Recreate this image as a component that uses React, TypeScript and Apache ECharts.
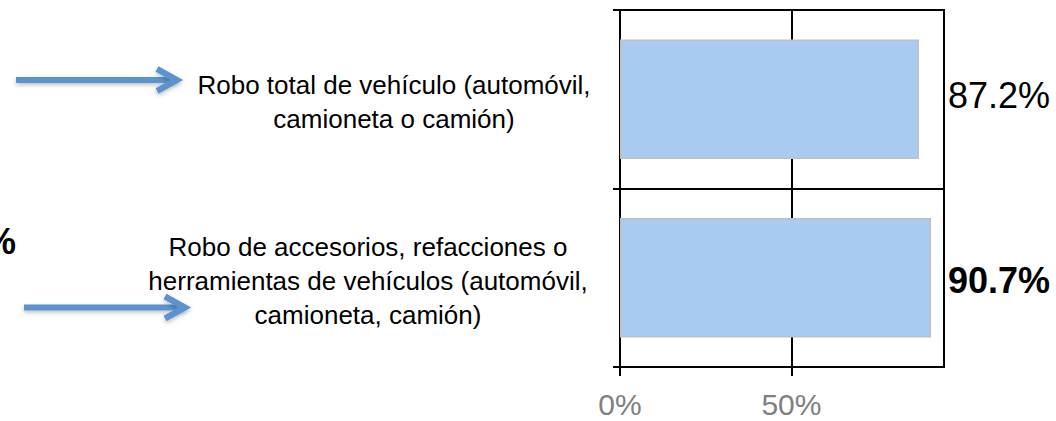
import React, { useEffect, useRef } from "react";
import * as echarts from "echarts";

const categories = [
  "Robo total de vehículo (automóvil,\ncamioneta o camión)",
  "Robo de accesorios, refacciones o\nherramientas de vehículos (automóvil,\ncamioneta, camión)",
];
const values = [87.2, 90.7];
const valueLabels = values.map((v) => v.toFixed(1) + "%");
const xTicks = [0, 50];

const FONT = "'Liberation Sans', Arial, Helvetica, sans-serif";
const ARROW = "#5B93CE";
const SHADOW = { shadowBlur: 4, shadowColor: "rgba(0,0,0,0.25)", shadowOffsetY: 2 };

export default function App() {
  const ref = useRef<HTMLDivElement>(null);
  useEffect(() => {
    document.body.style.margin = "0";
    const chart = echarts.init(ref.current!, null, { renderer: "svg" });
    const black = { color: "#000", width: 2 };
    chart.setOption({
      animation: false,
      textStyle: { fontFamily: FONT },
      grid: {
        left: 620,
        top: 10,
        width: 324,
        height: 357,
        show: true,
        borderColor: "#000",
        borderWidth: 2,
        containLabel: false,
      },
      xAxis: {
        type: "value",
        min: 0,
        max: 94.5,
        interval: 50,
        axisLine: { show: true, lineStyle: black },
        axisTick: { show: true, length: 9, customValues: xTicks, lineStyle: black },
        axisLabel: {
          customValues: xTicks,
          formatter: "{value}%",
          color: "#808080",
          fontSize: 30,
          fontFamily: FONT,
          margin: 22,
        },
        splitLine: { show: true, lineStyle: black },
      },
      yAxis: [
        {
          type: "category",
          data: categories,
          inverse: true,
          axisLine: { show: true, lineStyle: black },
          axisTick: { show: true, length: 7, lineStyle: black },
          splitLine: { show: true, lineStyle: black },
          axisLabel: {
            align: "center",
            margin: 226,
            padding: [6, 0, 0, 0],
            formatter: (v: string, i: number) => {
              const key = i === 0 ? "a" : "b";
              return v
                .split("\n")
                .map((l) => `{${key}|${l}}`)
                .join("\n");
            },
            rich: {
              a: { fontSize: 26, lineHeight: 34, color: "#000", fontFamily: FONT },
              b: {
                fontSize: 26,
                lineHeight: 34,
                color: "#000",
                fontFamily: FONT,
                padding: [0, 52, 0, 0],
              },
            },
          },
        },
        {
          type: "category",
          data: valueLabels,
          inverse: true,
          position: "right",
          axisLine: { show: false },
          axisTick: { show: false },
          splitLine: { show: false },
          axisLabel: {
            align: "left",
            margin: 4,
            formatter: (v: string, i: number) => (i === 0 ? `{n|${v}}` : `{b|${v}}`),
            rich: {
              n: { fontSize: 36, color: "#000", fontFamily: FONT, padding: [0, 0, 8, 0] },
              b: {
                fontSize: 36,
                color: "#000",
                fontWeight: "bold",
                fontFamily: FONT,
                padding: [5, 0, 0, 0],
              },
            },
          },
        },
      ],
      series: [
        {
          type: "bar",
          data: values,
          yAxisIndex: 0,
          barCategoryGap: "33%",
          itemStyle: { color: "#A9CBF2", borderColor: "#BFBFBF", borderWidth: 1.5 },
        },
      ],
      graphic: [
        {
          type: "text",
          x: 16,
          y: 241,
          style: {
            text: "%",
            fontSize: 36,
            fontWeight: "bold",
            fontFamily: FONT,
            fill: "#000",
            align: "right",
            verticalAlign: "middle",
          },
        },
        {
          type: "group",
          children: [
            {
              type: "rect",
              shape: { x: 16, y: 77, width: 160, height: 6 },
              style: { fill: ARROW, ...SHADOW },
            },
            {
              type: "polyline",
              shape: { points: [[157, 69], [177, 80], [157, 91]] },
              style: { stroke: ARROW, fill: null, lineWidth: 6, lineJoin: "miter", ...SHADOW },
            },
            {
              type: "rect",
              shape: { x: 24, y: 304.5, width: 160, height: 6 },
              style: { fill: ARROW, ...SHADOW },
            },
            {
              type: "polyline",
              shape: { points: [[165, 296.5], [185, 307.5], [165, 318.5]] },
              style: { stroke: ARROW, fill: null, lineWidth: 6, lineJoin: "miter", ...SHADOW },
            },
          ],
        },
      ],
    });
    return () => chart.dispose();
  }, []);
  return <div ref={ref} style={{ width: 1056, height: 421 }} />;
}
